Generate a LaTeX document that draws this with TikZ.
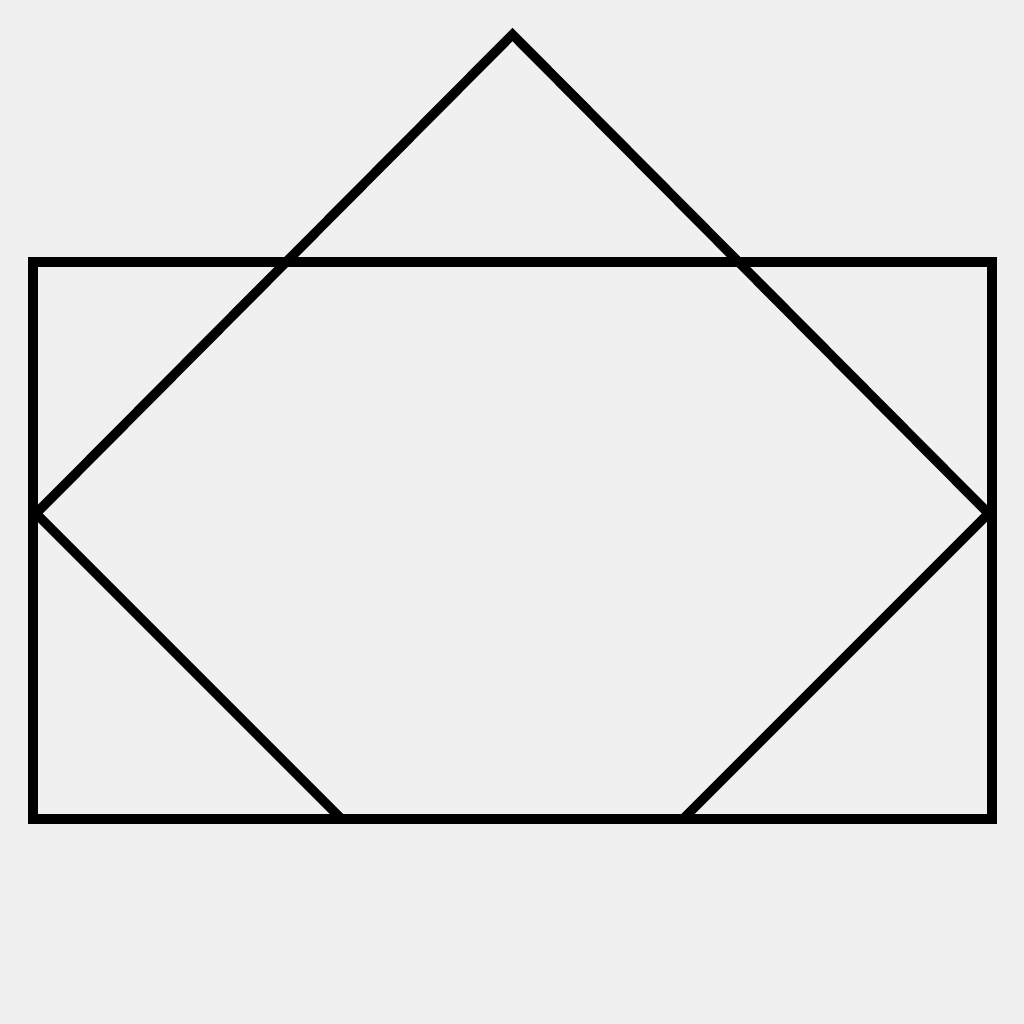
\documentclass[tikz,border=0pt]{standalone}
\usepackage{tikz}
\definecolor{bggrau}{RGB}{240,240,240}
\begin{document}
\begin{tikzpicture}[
        outline/.style={draw=black, line width=0.095cm, line join=miter}
    ]
        \fill[bggrau] (0,0) rectangle (10.24,10.24);
        \useasboundingbox (0,0) rectangle (10.24,10.24);
        \coordinate (apex) at (5.125,9.895);
        \coordinate (left) at (0.36,5.105);
        \coordinate (right) at (9.885,5.105);
        \coordinate (bl) at (3.415,2.05);
        \coordinate (br) at (6.83,2.05);
        \draw[outline] (0.33,2.05) rectangle (9.92,7.62);
        \draw[outline] (apex) -- (left) -- (bl) -- (br) -- (right) -- cycle;
    \end{tikzpicture}
\end{document}
